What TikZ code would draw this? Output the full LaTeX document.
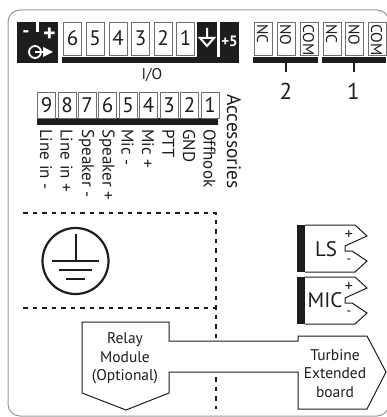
\documentclass[tikz,border=0pt]{standalone}
\usepackage{fontspec}
\setmainfont{PT Sans}
\definecolor{ink}{HTML}{1D1D1B}
\definecolor{cellgray}{HTML}{6F6F6E}
\tikzset{
  cellbox/.style={draw=cellgray,line width=1pt,fill=white,minimum width=18pt,minimum height=33pt,inner sep=0pt,anchor=north west},
  celltxt/.style={font=\fontsize{21}{21}\selectfont,text=ink,inner sep=0pt},
  vtxt/.style={font=\fontsize{15.5}{15.5}\selectfont,text=ink,inner sep=0pt,rotate=-90},
  acclabel/.style={font=\fontsize{17}{17}\selectfont,text=ink,inner sep=0pt,rotate=-90,anchor=west},
  lbl/.style={font=\fontsize{15.5}{15.5}\selectfont,text=ink,inner sep=0pt,anchor=base},
  dashline/.style={ink,line width=1.6pt,dash pattern=on 4.5pt off 5pt},
  outline/.style={ink,line width=1pt,line join=miter},
}
\begin{document}
\begin{tikzpicture}[x=1pt,y=-1pt]
\useasboundingbox (0,0) rectangle (387,417);
\draw[color=gray!80,line width=1pt,rounded corners=12pt] (389,400) -- (389,416) -- (8,416) -- (8,10) -- (389,10) -- (389,30);
% left power block
\fill[ink] (17,22) rectangle (58,63);
\fill[white] (36,21) rectangle (38.5,32);
\node[text=white,font=\bfseries\fontsize{20}{20}\selectfont,inner sep=0] (minus) at (26,34) {-};
\node[text=white,font=\bfseries\fontsize{24}{24}\selectfont,inner sep=0] (plus) at (49.5,35) {+};
\draw[white,line width=1.8pt] (35,52) circle (6);
\draw[white,line width=1.5pt] (35,52) -- (44,52);
\fill[white] (43,47) -- (53,52) -- (43,57) -- cycle;
% I/O
\fill[ink] (62,57) rectangle (239,63);
\foreach \x/\t in {63/6,85.5/5,108.5/4,131/3,153.5/2,176/1}{
  \node[cellbox] (io\t) at (\x,22.5) {};
  \node[celltxt] at ([yshift=1pt]io\t.center) {\t};
}
\fill[ink] (197,22) rectangle (217,63);
\fill[ink] (220,22) rectangle (239,63);
\draw[white,line width=2pt] (207,28) -- (207,37) (200,38) -- (214,38) -- (207,46) -- cycle;
\node[text=white,font=\bfseries\fontsize{15}{15}\selectfont,inner sep=0] (p5) at (229.5,41) {+5};
\node[lbl] (iolabel) at (152,80) {I/O};
% relay terminals
\fill[ink] (253,57) rectangle (318,63);
\fill[ink] (322,57) rectangle (386,63);
\foreach \x/\t/\n in {253.5/NC/a,276.5/NO/b,299.5/COM/c,322.5/NC/d,345/NO/e,367.5/COM/f}{
  \node[cellbox] (rel\n) at (\x,22.5) {};
  \node[vtxt,anchor=west] at (\x+9,24) {\t};
}
\coordinate (t2a) at (286,63); \coordinate (t2b) at (286,72);
\coordinate (t1a) at (353.5,63); \coordinate (t1b) at (353.5,72);
\draw[ink,line width=2pt] (t2a) -- (t2b);
\draw[ink,line width=2pt] (t1a) -- (t1b);
\node[celltxt,font=\fontsize{23}{23}\selectfont] (n2) at (286,91) {2};
\node[celltxt,font=\fontsize{23}{23}\selectfont] (n1) at (353.5,91) {1};
% accessories
\fill[ink] (37,118) rectangle (218,125);
\foreach \x/\t/\s in {37/9/Line in -,57.5/8/Line in +,77.5/7/Speaker -,98/6/Speaker +,118.5/5/Mic -,139/4/Mic +,159.5/3/PTT,180/2/GND,200.5/1/Offhook}{
  \node[cellbox,minimum height=26pt] (acc\t) at (\x,92) {};
  \node[celltxt] at (acc\t.center) {\t};
  \node[acclabel] at (\x+9,129) {\s};
}
\node[vtxt,anchor=west,font=\fontsize{19.5}{19.5}\selectfont] (acc) at (234,94) {Accessories};
% dashed
\coordinate (d1) at (23,213); \coordinate (d2) at (216,213);
\coordinate (d3) at (23,308); \coordinate (d4) at (216,308);
\coordinate (d5) at (216,341); \coordinate (d6) at (216,377); \coordinate (d7) at (216,409);
\draw[dashline] (d1) -- (d2) -- (d5);
\draw[dashline] (d3) -- (d4);
\draw[dashline] (d6) -- (d7);
% earth
\draw[ink,line width=2.2pt] (75.5,261) circle (33);
\draw[ink,line width=2.2pt] (76,234) -- (76,261);
\draw[ink,line width=2.4pt] (52,261) -- (99,261);
\draw[ink,line width=2.4pt] (59,270) -- (92,270);
\draw[ink,line width=2.4pt] (66,279) -- (85,279);
% LS / MIC
\foreach \y/\t/\n in {225/LS/ls,277/MIC/mic}{
  \fill[ink] (297,\y) rectangle (305,\y+47);
  \draw[outline] (305,\y) -- (355,\y) -- (367,\y+11) -- (345,\y+21) -- (345,\y+26) -- (352,\y+26) -- (367,\y+36) -- (355,\y+47) -- (305,\y+47);
  \node[text=ink,inner sep=0,font=\fontsize{16}{16}\selectfont] at (349,\y+10) {+};
  \node[text=ink,inner sep=0,font=\fontsize{14}{14}\selectfont] at (349,\y+36) {-};
}
\node[lbl,font=\fontsize{21}{21}\selectfont] (ls) at (326,256) {LS};
\node[lbl,font=\fontsize{21}{21}\selectfont] (mic) at (325,307) {MIC};
% relay + turbine
\draw[outline,fill=white] (298,341) -- (298,336) -- (367,336) -- (386,372) -- (367,409) -- (298,409) -- (298,372) -- (169,372) -- (169,393) -- (126,410) -- (82,393) -- (82,322) -- (169,322) -- (169,341) -- cycle;
\node[lbl] (relay) at (125,343) {Relay};
\node[lbl] (module) at (125,362) {Module};
\node[lbl] (opt) at (125,380) {(Optional)};
\node[lbl] (tb1) at (335,360) {Turbine};
\node[lbl] (tb2) at (335,378) {Extended};
\node[lbl] (tb3) at (335,397) {board};
\end{tikzpicture}
\end{document}
